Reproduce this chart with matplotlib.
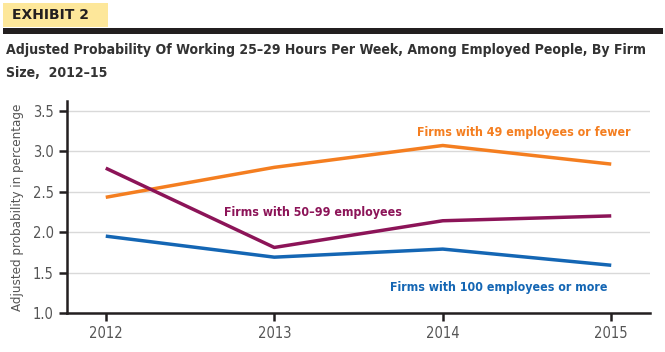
import numpy as np
import matplotlib.pyplot as plt
from matplotlib.patches import Rectangle

plt.rcParams.update({'font.family': ['DejaVu Sans'], 'font.stretch': 'condensed'})

years = [2012, 2013, 2014, 2015]
small = [2.43, 2.80, 3.07, 2.84]      # 49 employees or fewer
mid = [2.79, 1.81, 2.14, 2.20]        # 50-99 employees
large = [1.95, 1.69, 1.79, 1.59]      # 100 employees or more

c_small = '#F47E20'
c_mid = '#8C1458'
c_large = '#1466B4'
grey = '#555555'

fig = plt.figure(figsize=(6.65, 3.52), dpi=100)

# header
fig.patches.append(Rectangle((3/665, 1-27/352), 105/665, 24/352, transform=fig.transFigure,
                             facecolor='#FDE79A', edgecolor='none'))
fig.patches.append(Rectangle((3/665, 1-34/352), 660/665, 6/352, transform=fig.transFigure,
                             facecolor='#231F20', edgecolor='none'))
fig.text(12/665, 1-15/352, 'EXHIBIT 2', fontsize=10, fontweight='bold', color='#231F20',
         va='center', fontstretch='normal')
fig.text(6/665, 1-50/352, 'Adjusted Probability Of Working 25\u201329 Hours Per Week, Among Employed People, By Firm',
         fontsize=10.1, fontweight='bold', color='#333333', va='center')
fig.text(6/665, 1-73/352, 'Size,  2012\u201315', fontsize=10.1, fontweight='bold', color='#333333', va='center')

ax = fig.add_axes([67/665, 1-313/352, 583/665, 212/352])
ax.plot(years, small, color=c_small, lw=2.5, solid_capstyle='butt')
ax.plot(years, mid, color=c_mid, lw=2.5, solid_capstyle='butt')
ax.plot(years, large, color=c_large, lw=2.5, solid_capstyle='butt')

ax.text(2014.48, 3.23, 'Firms with 49 employees or fewer', color=c_small, fontsize=8.9,
        fontweight='bold', ha='center', va='center')
ax.text(2013.23, 2.24, 'Firms with 50\u201399 employees', color=c_mid, fontsize=8.9,
        fontweight='bold', ha='center', va='center')
ax.text(2014.33, 1.32, 'Firms with 100 employees or more', color=c_large, fontsize=8.9,
        fontweight='bold', ha='center', va='center')

ax.set_xlim(2011.77, 2015.23)
ax.set_ylim(1.0, 3.62)
ax.set_yticks([1.0, 1.5, 2.0, 2.5, 3.0, 3.5])
ax.set_yticklabels(['1.0', '1.5', '2.0', '2.5', '3.0', '3.5'])
ax.set_xticks(years)
ax.set_xticklabels([str(y) for y in years])
ax.grid(axis='y', color='#D9D9D9', lw=1)
ax.set_axisbelow(True)
for s in ['top', 'right']:
    ax.spines[s].set_visible(False)
for s in ['left', 'bottom']:
    ax.spines[s].set_linewidth(1.8)
    ax.spines[s].set_color('#231F20')
ax.tick_params(axis='both', colors='#231F20', width=1.8, length=6, labelcolor=grey, labelsize=10.5)
ax.set_ylabel('Adjusted probability in percentage', color=grey, fontsize=9.5, labelpad=6)

fig.savefig('out.png', dpi=100)
